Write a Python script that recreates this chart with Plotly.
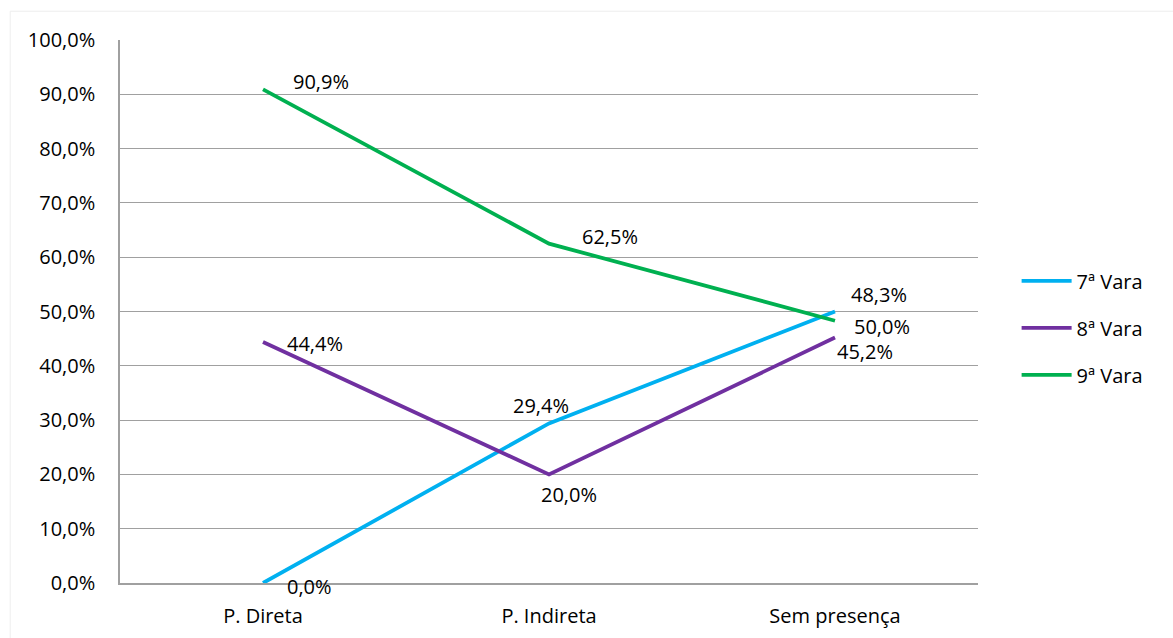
import plotly.graph_objects as go

categories = ["P. Direta", "P. Indireta", "Sem presença"]
series_names = ["7ª Vara", "8ª Vara", "9ª Vara"]
vara7 = [0.0, 0.294, 0.50]
vara8 = [0.444, 0.20, 0.452]
vara9 = [0.909, 0.625, 0.483]
colors = ["#00B0F0", "#7030A0", "#00B050"]

# label offsets (pixels) per series/point
offsets = [
    [(46, -3), (-8, 18), (47, -15)],
    [(52, -2), (20, -20), (30, -14)],
    [(58, 8), (61, 7), (44, 26)],
]

FONT = "Open Sans"
FS = 20
fig = go.Figure()
all_vals = [vara7, vara8, vara9]
annotations = []
for name, vals, col, offs in zip(series_names, all_vals, colors, offsets):
    fig.add_trace(go.Scatter(
        x=categories, y=vals, mode="lines", name=name,
        line=dict(color=col, width=3.8), legendgroup=name,
    ))
    for c, v, (dx, dy) in zip(categories, vals, offs):
        annotations.append(dict(
            x=c, y=v, xref="x", yref="y", text=f"{v*100:.1f}%".replace(".", ","),
            showarrow=False, xshift=dx, yshift=dy,
            font=dict(family=FONT, size=FS, color="#000000"),
        ))

fig.update_layout(
    width=1173, height=638,
    margin=dict(l=120, r=195, t=40, b=55),
    paper_bgcolor="white", plot_bgcolor="white",
    separators=",.",
    font=dict(family=FONT, size=FS, color="#000000"),
    showlegend=True,
    legend=dict(
        x=1.045, y=0.47, xanchor="left", yanchor="middle",
        font=dict(family=FONT, size=FS, color="#000000"),
        tracegroupgap=18, bgcolor="rgba(0,0,0,0)", itemwidth=50,
    ),
    annotations=annotations,
    shapes=[dict(type="rect", xref="paper", yref="paper",
                 x0=-0.128, x1=1.25, y0=-0.2, y1=1.053,
                 line=dict(color="#eeeeee", width=1), layer="below")],
)
fig.update_xaxes(
    type="category", range=[-0.5, 2.5], automargin=False,
    showgrid=False, showline=True, linecolor="#a0a0a0", linewidth=1.5,
    ticks="", ticklabelstandoff=14,
    tickfont=dict(family=FONT, size=FS, color="#000000"),
    zeroline=False,
)
fig.update_yaxes(
    range=[0, 1.0], dtick=0.1, tickformat=".1%", automargin=False,
    showgrid=True, gridcolor="#a0a0a0", gridwidth=1.2,
    showline=True, linecolor="#a0a0a0", linewidth=1.5,
    ticks="", ticklabelstandoff=19,
    tickfont=dict(family=FONT, size=FS, color="#000000"),
    zeroline=False,
)

fig.write_html("out.html")
